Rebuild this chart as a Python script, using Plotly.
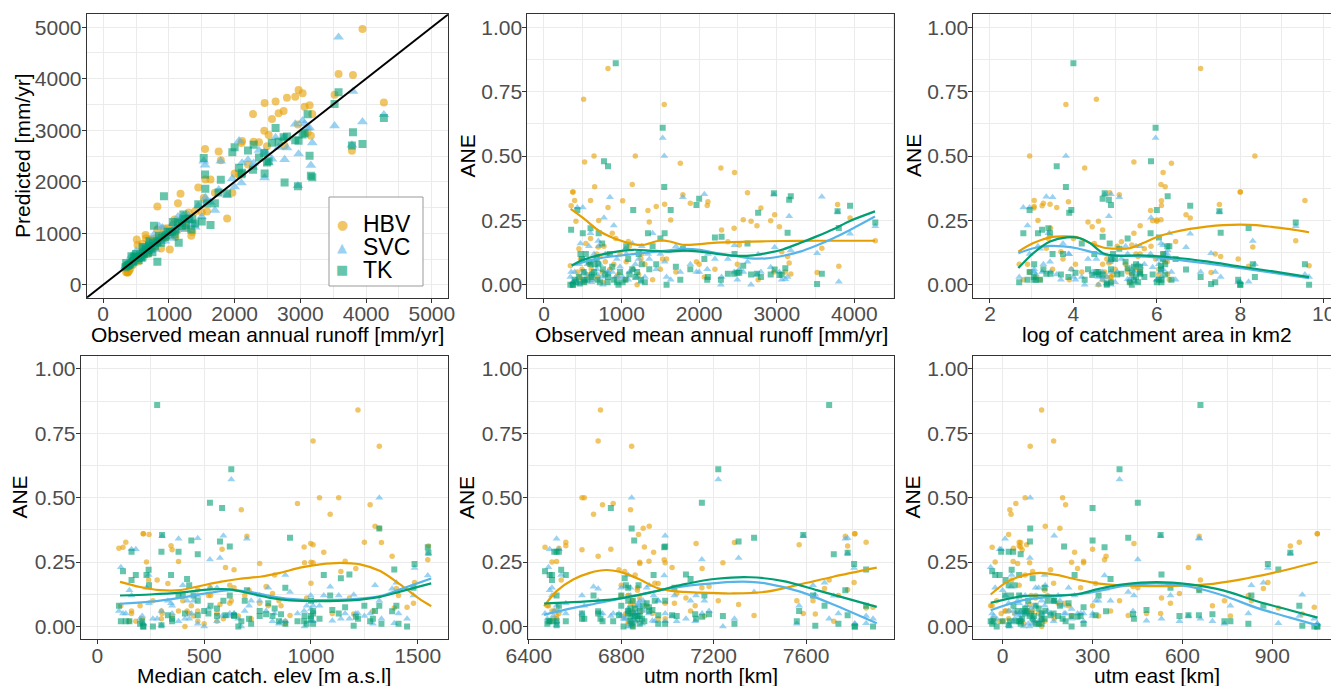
import numpy as np
import plotly.graph_objects as go
from plotly.subplots import make_subplots

# ---------------- data (one entry per catchment) ----------------
obs = [4270, 3945, 3800, 3784, 3581, 3520, 3181, 3160, 3140, 3110,
       3064, 3034, 2973, 2963, 2922, 2796, 2760, 2745, 2669, 2623,
       2568, 2517, 2492, 2456, 2451, 2370, 2289, 2280, 2203, 2113,
       2104, 2067, 2000, 1965, 1886, 1790, 1757, 1700, 1633, 1580,
       1555, 1550, 1530, 1500, 1447, 1400, 1357, 1340, 1300, 1260,
       1220, 1177, 1150, 1138, 1100, 1086, 1050, 1014, 980, 940,
       925, 900, 880, 850, 825, 825, 790, 773, 750, 720,
       705, 680, 653, 645, 620, 600, 580, 560, 540, 524,
       511, 500, 490, 470, 450, 430, 412, 395, 370, 375,
       350, 340, 700, 600, 1250, 820, 460, 520, 610, 690,
       760, 960, 1060, 1200]

# signed relative errors (pred - obs) / obs
err_hbv = [-0.171, 0.259, 0.072, -0.312, 0.142, 0.048, 0.042, -0.085, 0.110, -0.050,
           0.128, 0.225, 0.272, 0.050, 0.249, 0.298, -0.020, 0.229, 0.247, 0.357,
           0.253, 0.155, 0.080, 0.436, 0.220, 0.167, 0.213, 0.453, 0.060, 0.322,
           0.308, 0.030, 0.080, -0.090, -0.317, 0.350, 0.472, 0.050, 0.252, -0.100,
           0.313, 0.700, 0.100, -0.060, 0.304, 0.020, -0.244, -0.288, 0.080, -0.120,
           0.040, 0.500, -0.060, 0.389, -0.150, 0.168, -0.020, -0.326, 0.120, -0.030,
           0.180, 0.080, -0.200, 0.060, 0.840, 0.300, -0.090, 0.150, -0.050, 0.110,
           0.250, -0.120, 0.381, 0.500, -0.020, 0.180, -0.080, 0.040, -0.160, 0.477,
           0.720, 0.020, -0.060, 0.100, -0.140, 0.050, -0.247, -0.327, -0.360, -0.360,
           -0.307, 0.074, 0.147, 0.327, -0.100, 0.120, 0.030, -0.010, 0.060, -0.030,
           0.010, -0.040, 0.090, 0.000]
err_svc = [-0.227, -0.198, -0.012, -0.283, 0.342, -0.123, -0.134, -0.266, -0.030, -0.022,
           0.020, 0.050, -0.146, -0.351, 0.068, -0.050, -0.119, 0.040, 0.000, 0.090,
           -0.050, -0.060, 0.020, -0.154, 0.050, 0.100, 0.030, 0.000, 0.100, 0.120,
           -0.060, 0.352, -0.050, 0.050, -0.080, 0.340, 0.050, -0.150, -0.020, 0.030,
           0.090, 0.500, 0.570, -0.120, 0.060, -0.200, -0.100, -0.120, 0.030, -0.150,
           0.100, 0.080, -0.060, 0.160, -0.050, 0.020, -0.140, -0.030, 0.070, -0.100,
           0.030, 0.230, -0.050, 0.340, -0.050, 0.040, -0.120, 0.260, 0.030, -0.080,
           0.150, -0.060, 0.100, 0.120, -0.020, 0.200, -0.150, 0.080, -0.040, 0.050,
           0.100, 0.300, -0.010, 0.160, -0.080, 0.300, -0.020, -0.050, 0.010, 0.010,
           0.050, 0.030, 0.170, -0.040, 0.010, 0.050, -0.005, 0.020, 0.010, -0.040,
           0.000, 0.030, 0.120, -0.030]
err_tk = [-0.242, -0.307, -0.221, -0.286, 0.043, -0.003, -0.344, -0.330, -0.202, 0.064,
          -0.040, -0.038, -0.059, -0.355, -0.040, 0.030, -0.280, 0.043, 0.040, 0.160,
          0.074, -0.047, -0.047, -0.120, 0.043, 0.043, 0.187, -0.020, 0.184, 0.030,
          0.020, 0.100, 0.334, 0.310, -0.060, 0.140, 0.020, -0.070, -0.290, 0.000,
          0.200, 0.380, 0.610, -0.180, 0.080, -0.150, -0.060, -0.200, -0.010, -0.080,
          0.120, 0.030, -0.290, 0.060, -0.040, -0.100, -0.020, 0.010, 0.050, -0.010,
          0.860, 0.020, -0.070, 0.120, 0.030, -0.460, -0.040, 0.480, -0.160, -0.010,
          0.200, -0.100, 0.080, 0.050, -0.040, 0.220, -0.090, 0.020, -0.120, -0.020,
          0.050, 0.200, 0.100, 0.120, -0.030, 0.290, -0.010, -0.020, 0.000, 0.000,
          0.214, 0.000, 0.080, -0.080, 0.020, 0.010, 0.005, 0.010, 0.030, -0.020,
          0.060, 0.000, 0.150, -0.050]

log_area = [9.33, 6.80, 8.20, 7.50, 3.35, 7.30, 6.26, 4.85, 7.53, 5.30,
            3.70, 4.45, 6.70, 4.75, 5.90, 3.05, 3.90, 5.60, 4.60, 4.87,
            6.10, 5.40, 4.05, 6.15, 3.45, 5.15, 4.70, 4.27, 6.05, 3.88,
            6.11, 4.90, 4.70, 4.90, 3.28, 5.10, 6.35, 5.60, 6.00, 4.80,
            3.44, 3.82, 5.97, 5.30, 3.06, 6.30, 4.35, 5.85, 2.70, 5.50,
            4.95, 8.35, 3.95, 6.10, 5.05, 6.45, 3.20, 6.11, 5.60, 4.90,
            4.00, 2.90, 5.45, 3.50, 7.05, 3.60, 6.20, 5.86, 4.20, 5.55,
            3.15, 6.15, 6.20, 2.95, 4.70, 3.40, 5.25, 6.05, 4.50, 5.45,
            4.55, 2.80, 5.00, 3.75, 5.70, 2.95, 6.00, 3.06, 8.00, 8.00,
            3.25, 9.65, 8.30, 9.55, 7.95, 7.40, 4.80, 5.35, 5.50, 3.10,
            4.90, 5.40, 6.25, 4.60]
elev = [1485, 1547, 1390, 1550, 470, 1200, 902, 574, 1180, 1100,
        820, 1210, 1380, 303, 1000, 350, 470, 600, 970, 242,
        1160, 790, 860, 1090, 640, 330, 1140, 674, 420, 999,
        968, 590, 440, 620, 1010, 700, 1277, 560, 380, 260,
        345, 1320, 627, 160, 101, 880, 760, 1060, 200, 530,
        450, 1040, 300, 1300, 640, 1000, 150, 1330, 520, 720,
        280, 110, 830, 380, 1220, 584, 760, 527, 430, 980,
        230, 690, 1320, 1130, 560, 240, 800, 350, 620, 937,
        1010, 180, 470, 400, 710, 160, 1010, 133, 215, 215,
        120, 1450, 1400, 1250, 850, 1410, 300, 880, 1290, 210,
        500, 660, 1480, 410]
utm_north = [7808, 6986, 7860, 7780, 7780, 7640, 7375, 7308, 7080, 6935,
             7040, 7150, 6700, 7588, 6880, 6630, 7720, 7020, 7240, 6875,
             6920, 7180, 7120, 6680, 6790, 6960, 6815, 6840, 7100, 7124,
             6900, 6990, 6856, 6990, 7570, 7770, 6719, 6840, 6520, 6850,
             6560, 6845, 7220, 6500, 6530, 6830, 6880, 6940, 6480, 6800,
             7160, 6640, 6510, 6921, 6870, 6945, 6490, 7290, 6830, 6960,
             7700, 6485, 6860, 6520, 6710, 6755, 6840, 7149, 6820, 6880,
             6500, 6830, 6895, 6630, 6860, 6540, 6910, 6520, 6800, 6765,
             6700, 6490, 6850, 7630, 6870, 6530, 6990, 6560, 7810, 7812,
             6470, 7890, 7680, 7860, 7560, 7740, 6520, 6845, 6890, 6505,
             6830, 6810, 7030, 6850]
utm_east = [885, 340, 920, 960, 655, 1000, 419, 91, 530, 480,
            590, 250, 345, 527, 230, 65, 60, 620, 90, 20,
            270, 435, 700, 28, 160, 310, 100, 24, 360, 438,
            60, 172, 300, 205, 80, 656, 210, 120, 35, -20,
            55, 92, 390, 10, 36, 140, 50, 240, -35, 110,
            320, 200, 20, 142, 260, 170, 0, 60, 95, 130,
            660, -40, 75, 8, 130, 300, 185, 451, 40, 110,
            -25, 150, 191, 75, 105, 30, 220, 760, 55, 44,
            170, -10, 85, 830, 140, -5, 270, 55, 1050, 1050,
            -35, 1040, 870, 990, 740, 820, 20, 120, 100, -30,
            70, 230, 560, 130]

# ---------------- smoothed curves ----------------
sm_obs_hbv_x = [344, 507, 722, 937, 1151, 1280, 1495, 1624, 1796, 2011, 2226, 2655, 3085, 3514, 3944, 4266]
sm_obs_hbv_y = [0.295, 0.259, 0.207, 0.177, 0.158, 0.155, 0.172, 0.168, 0.155, 0.158, 0.164, 0.168, 0.170, 0.171, 0.171, 0.171]
sm_obs_svc_x = [357, 722, 1151, 1581, 1796, 2011, 2226, 2440, 2655, 2870, 3085, 3300, 3514, 3729, 3944, 4266]
sm_obs_svc_y = [0.075, 0.103, 0.119, 0.133, 0.140, 0.136, 0.123, 0.113, 0.103, 0.103, 0.113, 0.129, 0.153, 0.181, 0.213, 0.265]
sm_obs_tk_x = [357, 507, 722, 937, 1151, 1366, 1581, 1796, 2011, 2226, 2440, 2655, 2870, 3085, 3300, 3514, 3729, 3944, 4266]
sm_obs_tk_y = [0.075, 0.097, 0.116, 0.129, 0.136, 0.133, 0.129, 0.133, 0.129, 0.120, 0.113, 0.113, 0.123, 0.138, 0.162, 0.188, 0.216, 0.248, 0.285]

sm_area_hbv_x = [2.68, 3.04, 3.44, 3.76, 4.08, 4.40, 4.71, 5.03, 5.35, 5.67, 5.99, 6.39, 6.79, 7.19, 7.59, 7.99, 8.39, 8.79, 9.19, 9.65]
sm_area_hbv_y = [0.129, 0.162, 0.184, 0.188, 0.185, 0.162, 0.145, 0.140, 0.142, 0.162, 0.185, 0.204, 0.217, 0.226, 0.232, 0.234, 0.232, 0.224, 0.216, 0.204]
sm_area_svc_x = [2.68, 3.04, 3.44, 3.76, 4.08, 4.40, 4.79, 5.19, 5.99, 6.79, 7.59, 8.39, 9.65]
sm_area_svc_y = [0.123, 0.142, 0.151, 0.149, 0.142, 0.129, 0.116, 0.113, 0.106, 0.091, 0.074, 0.056, 0.026]
sm_area_tk_x = [2.68, 3.04, 3.44, 3.84, 4.16, 4.40, 4.71, 5.03, 5.59, 6.39, 7.19, 7.99, 8.79, 9.65]
sm_area_tk_y = [0.065, 0.123, 0.168, 0.184, 0.181, 0.162, 0.123, 0.113, 0.114, 0.106, 0.091, 0.071, 0.052, 0.030]

sm_elev_hbv_x = [106, 200, 293, 387, 481, 574, 668, 762, 855, 949, 1043, 1136, 1230, 1324, 1417, 1511, 1563]
sm_elev_hbv_y = [0.173, 0.153, 0.141, 0.141, 0.157, 0.173, 0.185, 0.193, 0.208, 0.228, 0.241, 0.247, 0.241, 0.215, 0.163, 0.105, 0.079]
sm_elev_svc_x = [106, 247, 387, 528, 621, 715, 809, 902, 1043, 1183, 1324, 1417, 1563]
sm_elev_svc_y = [0.088, 0.096, 0.111, 0.131, 0.141, 0.134, 0.118, 0.107, 0.102, 0.105, 0.118, 0.144, 0.186]
sm_elev_tk_x = [106, 247, 387, 528, 621, 715, 809, 902, 1043, 1183, 1324, 1417, 1563]
sm_elev_tk_y = [0.120, 0.124, 0.131, 0.144, 0.144, 0.128, 0.111, 0.101, 0.098, 0.101, 0.115, 0.135, 0.167]

sm_north_hbv_x = [6466, 6520, 6592, 6664, 6736, 6809, 6881, 6953, 7025, 7141, 7285, 7430, 7574, 7718, 7906]
sm_north_hbv_y = [0.079, 0.137, 0.182, 0.208, 0.219, 0.208, 0.182, 0.150, 0.137, 0.131, 0.128, 0.135, 0.163, 0.193, 0.228]
sm_north_svc_x = [6466, 6563, 6708, 6852, 6996, 7141, 7285, 7357, 7430, 7574, 7718, 7906]
sm_north_svc_y = [0.045, 0.066, 0.092, 0.118, 0.146, 0.163, 0.173, 0.173, 0.166, 0.135, 0.085, 0.012]
sm_north_tk_x = [6466, 6635, 6780, 6924, 7069, 7213, 7357, 7502, 7646, 7790, 7906]
sm_north_tk_y = [0.089, 0.096, 0.107, 0.131, 0.163, 0.185, 0.191, 0.176, 0.141, 0.105, 0.076]

sm_east_hbv_x = [-40, 13, 69, 125, 180, 236, 291, 347, 458, 570, 681, 792, 903, 1051]
sm_east_hbv_y = [0.124, 0.172, 0.198, 0.208, 0.200, 0.185, 0.172, 0.163, 0.157, 0.157, 0.163, 0.182, 0.208, 0.250]
sm_east_svc_x = [-40, 69, 180, 291, 403, 514, 625, 736, 848, 959, 1051]
sm_east_svc_y = [0.063, 0.102, 0.118, 0.131, 0.157, 0.167, 0.154, 0.120, 0.072, 0.034, 0.004]
sm_east_tk_x = [-40, 69, 180, 247, 314, 403, 514, 625, 736, 848, 959, 1051]
sm_east_tk_y = [0.092, 0.118, 0.120, 0.124, 0.144, 0.163, 0.172, 0.163, 0.140, 0.098, 0.063, 0.034]

models = ["HBV", "SVC", "TK"]
colors = {"HBV": "#E69F00", "SVC": "#56B4E9", "TK": "#009E73"}
colors_a = {"HBV": "rgba(230,159,0,0.6)", "SVC": "rgba(86,180,233,0.6)", "TK": "rgba(0,158,115,0.6)"}
symbols = {"HBV": "circle", "SVC": "triangle-up", "TK": "square"}
legend_glyph = {"HBV": "●", "SVC": "▲", "TK": "■"}

obs_a = np.array(obs, dtype=float)
errs = {"HBV": np.array(err_hbv), "SVC": np.array(err_svc), "TK": np.array(err_tk)}
pred = {m: obs_a * (1 + errs[m]) for m in models}
ane = {m: np.abs(errs[m]) for m in models}

# ---------------- figure ----------------
W, H = 1331, 686
fig = make_subplots(rows=2, cols=3)

FONT = "Liberation Sans, Arial, Helvetica, sans-serif"
GRID = "#EBEBEB"
BORDER = "#333333"

# panel 1
big = {"HBV": 8, "SVC": 9.5, "TK": 8}
for m in models:
    fig.add_trace(go.Scatter(x=obs_a, y=pred[m], mode="markers", name=m,
                             marker=dict(color=colors[m], symbol=symbols[m], size=big[m],
                                         opacity=0.6, line=dict(width=0)),
                             showlegend=False), row=1, col=1)
p1_range = [-250, 5250]
fig.add_trace(go.Scatter(x=p1_range, y=p1_range, mode="lines",
                         line=dict(color="black", width=2), showlegend=False,
                         hoverinfo="skip"), row=1, col=1)

small = {"HBV": 5.5, "SVC": 7, "TK": 6}
panels = [
    (1, 2, obs_a, {"HBV": (sm_obs_hbv_x, sm_obs_hbv_y), "SVC": (sm_obs_svc_x, sm_obs_svc_y), "TK": (sm_obs_tk_x, sm_obs_tk_y)}),
    (1, 3, np.array(log_area), {"HBV": (sm_area_hbv_x, sm_area_hbv_y), "SVC": (sm_area_svc_x, sm_area_svc_y), "TK": (sm_area_tk_x, sm_area_tk_y)}),
    (2, 1, np.array(elev), {"HBV": (sm_elev_hbv_x, sm_elev_hbv_y), "SVC": (sm_elev_svc_x, sm_elev_svc_y), "TK": (sm_elev_tk_x, sm_elev_tk_y)}),
    (2, 2, np.array(utm_north), {"HBV": (sm_north_hbv_x, sm_north_hbv_y), "SVC": (sm_north_svc_x, sm_north_svc_y), "TK": (sm_north_tk_x, sm_north_tk_y)}),
    (2, 3, np.array(utm_east), {"HBV": (sm_east_hbv_x, sm_east_hbv_y), "SVC": (sm_east_svc_x, sm_east_svc_y), "TK": (sm_east_tk_x, sm_east_tk_y)}),
]
for r, c, xv, sm in panels:
    for m in models:
        fig.add_trace(go.Scatter(x=xv, y=ane[m], mode="markers", showlegend=False,
                                 marker=dict(color=colors[m], symbol=symbols[m], size=small[m],
                                             opacity=0.6, line=dict(width=0))), row=r, col=c)
    for m in models:
        fig.add_trace(go.Scatter(x=sm[m][0], y=sm[m][1], mode="lines", showlegend=False,
                                 line=dict(color=colors[m], width=2.2, shape="spline", smoothing=0.8)),
                      row=r, col=c)

def dxd(a, b):
    return [a / W, b / W]

def dyd(top, bot):
    return [1 - bot / H, 1 - top / H]

tickfont = dict(family=FONT, size=21, color="#4D4D4D")
titlefont = dict(family=FONT, size=21, color="black")

def ax_common(mirror=True):
    return dict(showgrid=True, gridcolor=GRID, gridwidth=1.3, zeroline=False,
                showline=True, linecolor=BORDER, linewidth=1, mirror=mirror,
                ticks="outside", ticklen=4, tickcolor=BORDER, tickwidth=1,
                tickfont=tickfont, automargin=False, ticklabeloverflow="allow",
                title=dict(text=""))

xspec = {
    1: dict(domain=dxd(86.7, 448.3), range=p1_range, dtick=1000, tick0=0, minor=500,
            title="Observed mean annual runoff [mm/yr]", cx=267, cy=334),
    2: dict(domain=dxd(527.3, 894.3), range=[-215, 4515], dtick=1000, tick0=0, minor=500,
            title="Observed mean annual runoff [mm/yr]", cx=711, cy=334),
    3: dict(domain=dxd(973.3, 1331), range=[1.6, 10.175], dtick=2, tick0=0, minor=1,
            title="log of catchment area in km2", cx=1157, cy=334),
    4: dict(domain=dxd(80.7, 448.3), range=[-78, 1643], dtick=500, tick0=0, minor=250,
            title="Median catch. elev [m a.s.l]", cx=264, cy=675),
    5: dict(domain=dxd(527.7, 894.3), range=[6395, 7982], dtick=400, tick0=6400, minor=200,
            title="utm north [km]", cx=711, cy=675),
    6: dict(domain=dxd(973.3, 1331), range=[-98, 1095.7], dtick=300, tick0=0, minor=150,
            title="utm east [km]", cx=1157, cy=675),
}
annotations = []
for i in range(1, 7):
    s = xspec[i]
    key = "xaxis" if i == 1 else f"xaxis{i}"
    d = ax_common(mirror=True)
    d.update(domain=s["domain"], range=s["range"], dtick=s["dtick"], tick0=s["tick0"],
             tickmode="linear", ticklabelstandoff=-7,
             minor=dict(dtick=s["minor"], tick0=s["tick0"], showgrid=True,
                        gridcolor=GRID, gridwidth=0.6, ticks=""))
    fig.layout[key].update(d)
    annotations.append(dict(text=s["title"], x=s["cx"] / W, y=1 - s["cy"] / H,
                            xref="paper", yref="paper", showarrow=False,
                            xanchor="center", yanchor="middle", font=titlefont))

ytitle = {1: ("Predicted [mm/yr]", 22, 156), 2: ("ANE", 466.5, 156), 3: ("ANE", 913, 156),
          4: ("ANE", 20, 497.6), 5: ("ANE", 466.5, 497.6), 6: ("ANE", 913, 497.6)}
for i in range(1, 7):
    key = "yaxis" if i == 1 else f"yaxis{i}"
    top_row = i <= 3
    dom = dyd(14.3, 297.7) if top_row else dyd(356, 639.3)
    mirror = False if i in (3, 6) else True
    d = ax_common(mirror=mirror)
    d.update(ticklabelstandoff=-4)
    if i == 1:
        d.update(domain=dom, range=p1_range, dtick=1000, tick0=0, tickmode="linear",
                 minor=dict(dtick=500, tick0=0, showgrid=True, gridcolor=GRID, gridwidth=0.6, ticks=""))
    else:
        d.update(domain=dom, range=[-0.05, 1.05], dtick=0.25, tick0=0, tickmode="linear",
                 tickformat=".2f",
                 minor=dict(dtick=0.125, tick0=0, showgrid=True, gridcolor=GRID, gridwidth=0.6, ticks=""))
    fig.layout[key].update(d)
    t, cx, cy = ytitle[i]
    annotations.append(dict(text=t, x=cx / W, y=1 - cy / H, xref="paper", yref="paper",
                            showarrow=False, textangle=-90, xanchor="center", yanchor="middle",
                            font=titlefont))

# legend of panel 1 (drawn as a boxed key)
leg_rows = {"HBV": 224, "SVC": 246.5, "TK": 269}
for m in models:
    annotations.append(dict(text=legend_glyph[m], x=342 / W, y=1 - leg_rows[m] / H,
                            xref="paper", yref="paper", showarrow=False,
                            xanchor="center", yanchor="middle", height=18,
                            font=dict(family="DejaVu Sans", size=13, color=colors_a[m])))
    annotations.append(dict(text=m, x=361 / W, y=1 - leg_rows[m] / H,
                            xref="paper", yref="paper", showarrow=False,
                            xanchor="left", yanchor="middle", height=21,
                            font=dict(family=FONT, size=23, color="black")))

shapes = [dict(type="rect", xref="paper", yref="paper",
               x0=329 / W, x1=423 / W, y0=1 - 286 / H, y1=1 - 197 / H,
               line=dict(color="#999999", width=1), fillcolor="white", layer="above")]

fig.update_layout(
    width=W, height=H, margin=dict(l=0, r=0, t=0, b=0, autoexpand=False),
    paper_bgcolor="white", plot_bgcolor="white",
    font=dict(family=FONT), showlegend=False,
    annotations=annotations, shapes=shapes,
)

fig.write_html("out.html")
